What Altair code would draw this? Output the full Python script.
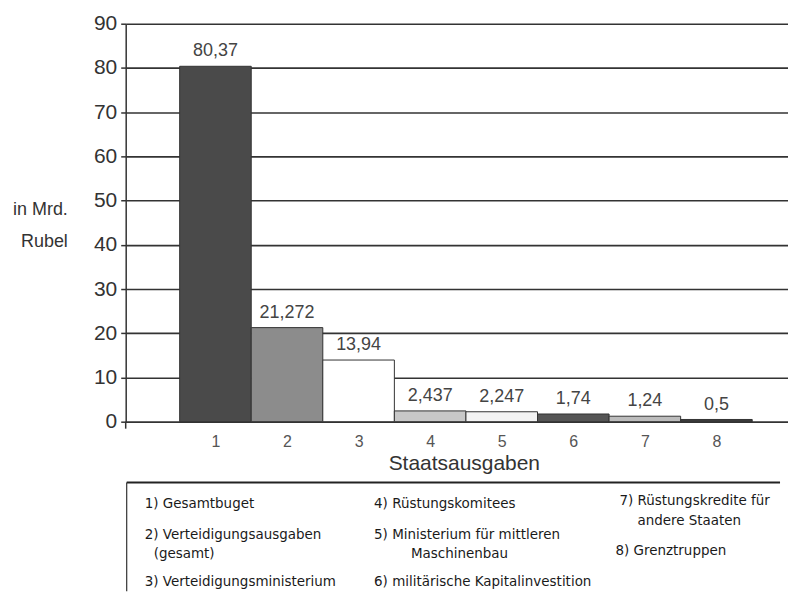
import altair as alt
import pandas as pd

# ---- data ----
categories = [1, 2, 3, 4, 5, 6, 7, 8]
values = [80.37, 21.272, 13.94, 2.437, 2.247, 1.74, 1.24, 0.5]
value_labels = ["80,37", "21,272", "13,94", "2,437", "2,247", "1,74", "1,24", "0,5"]
bar_colors = ["#4a4a4a", "#8c8c8c", "#ffffff", "#c8c8c8", "#f3f3f3", "#555555", "#bcbcbc", "#3a3a3a"]
y_ticks = [0, 10, 20, 30, 40, 50, 60, 70, 80, 90]
y_title_lines = ["in Mrd.", "Rubel"]
x_title = "Staatsausgaben"
legend_col1 = ["1) Gesamtbuget", "2) Verteidigungsausgaben", "(gesamt)", "3) Verteidigungsministerium"]
legend_col2 = ["4) Rüstungskomitees", "5) Ministerium für mittleren", "Maschinenbau", "6) militärische Kapitalinvestition"]
legend_col3 = ["7) Rüstungskredite für", "andere Staaten", "8) Grenztruppen"]

df = pd.DataFrame({
    "cat": categories,
    "value": values,
    "label": value_labels,
    "color": bar_colors,
})
df["x0"] = df["cat"] - 0.5
df["x1"] = df["cat"] + 0.5

FONT = "Liberation Sans"
LFONT = "DejaVu Sans"
W, H = 664, 399

xscale = alt.Scale(domain=[-0.254, 9.0], nice=False, zero=False)
yscale = alt.Scale(domain=[0, 90], nice=False)

base = alt.Chart(df)

bars = base.mark_rect(stroke="#333333", strokeWidth=1).encode(
    x=alt.X("x0:Q", scale=xscale,
            axis=alt.Axis(values=categories, format="d", title=x_title, ticks=False, grid=False,
                          labelFontSize=16, labelColor="#555555", labelFont=FONT, labelPadding=12,
                          domainColor="#333333", domainWidth=1.5,
                          titleFont=FONT, titleFontSize=21, titleFontWeight="normal",
                          titleColor="#333333", titlePadding=3, titleX=339)),
    x2="x1:Q",
    y=alt.Y("value:Q", scale=yscale,
            axis=alt.Axis(values=y_ticks, title=None, grid=True, gridColor="#333333", gridWidth=1.6,
                          gridOpacity=1, tickSize=5, tickColor="#333333", tickWidth=1.5,
                          domainColor="#333333", domainWidth=1.5,
                          labelFontSize=21, labelColor="#333333", labelFont=FONT, labelPadding=4)),
    y2=alt.datum(0),
    color=alt.Color("color:N", scale=None, legend=None),
)

bar_text = base.mark_text(font=FONT, fontSize=18, color="#444444", baseline="alphabetic", dy=-10).encode(
    x=alt.X("cat:Q", scale=xscale),
    y=alt.Y("value:Q", scale=yscale),
    text="label:N",
)

one = alt.Data(values=[{}])
layers = [bars, bar_text]

# y-axis extension below zero
layers.append(alt.Chart(one).mark_rule(color="#333333", strokeWidth=1.5).encode(
    x=alt.value(0), y=alt.value(H), y2=alt.value(H + 7)))

# y title (horizontal, two lines, right aligned)
for txt, yy in zip(y_title_lines, [187, 219]):
    layers.append(alt.Chart(one).mark_text(font=FONT, fontSize=18, color="#333333", align="right",
                                           baseline="middle").encode(
        x=alt.value(-58), y=alt.value(yy), text=alt.value(txt)))

# legend box lines
layers.append(alt.Chart(one).mark_rule(color="#222222", strokeWidth=2).encode(
    x=alt.value(1), x2=alt.value(656), y=alt.value(460)))
layers.append(alt.Chart(one).mark_rule(color="#333333", strokeWidth=1.2).encode(
    x=alt.value(1), y=alt.value(460), y2=alt.value(569)))

# legend texts
col1_pos = [(19, 482), (19, 513), (28, 532), (19, 560)]
col2_pos = [(249, 482), (249, 513), (286, 532), (249, 560)]
col3_pos = [(495, 479), (513, 499), (491, 529)]
for texts, pos in [(legend_col1, col1_pos), (legend_col2, col2_pos), (legend_col3, col3_pos)]:
    for txt, (xx, yy) in zip(texts, pos):
        layers.append(alt.Chart(one).mark_text(font=LFONT, fontSize=13.5, color="#1a1a1a", align="left",
                                               baseline="middle").encode(
            x=alt.value(xx), y=alt.value(yy), text=alt.value(txt)))

chart = alt.layer(*layers).properties(
    width=W, height=H,
    autosize=alt.AutoSizeParams(type="none"),
    padding={"left": 118, "top": 15, "right": 0, "bottom": 170},
    background="white",
).configure_view(stroke=None)

chart.save("out.html", embed_options={"renderer": "svg", "actions": False})
